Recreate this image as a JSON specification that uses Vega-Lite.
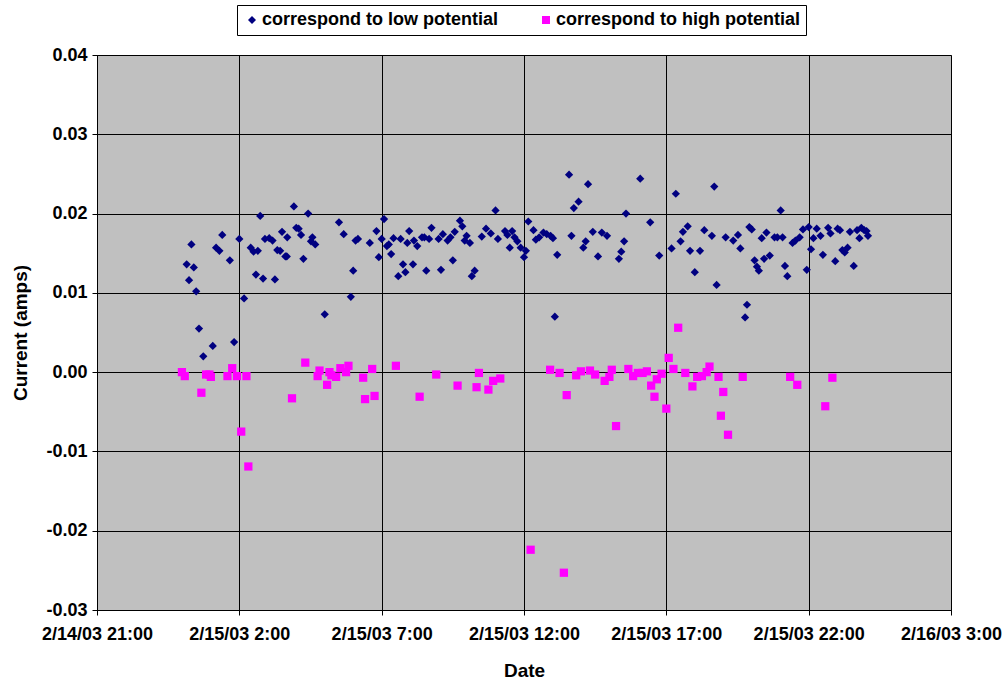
{
  "$schema": "https://vega.github.io/schema/vega-lite/v6.json",
  "autosize": {"type": "none"},
  "width": 854,
  "height": 555,
  "padding": {"left": 97, "top": 55, "right": 54, "bottom": 73},
  "background": "white",
  "config": {
    "font": "Liberation Sans",
    "view": {"fill": "#C0C0C0", "stroke": "#808080", "strokeWidth": 1},
    "axis": {
      "domainColor": "black",
      "tickColor": "black",
      "gridColor": "black",
      "gridOpacity": 1,
      "gridWidth": 1,
      "labelFont": "Liberation Sans",
      "labelFontWeight": "bold",
      "labelFontSize": 18,
      "labelColor": "black",
      "titleFont": "Liberation Sans",
      "titleFontWeight": "bold",
      "titleFontSize": 19,
      "titleColor": "black",
      "tickSize": 5
    }
  },
  "data": {
    "values": [
      {"time": "2003-02-15T00:19", "current": 0.0161, "series": "correspond to low potential"},
      {"time": "2003-02-15T00:09", "current": 0.0136, "series": "correspond to low potential"},
      {"time": "2003-02-15T00:24", "current": 0.0132, "series": "correspond to low potential"},
      {"time": "2003-02-15T00:14", "current": 0.0116, "series": "correspond to low potential"},
      {"time": "2003-02-15T00:29", "current": 0.0102, "series": "correspond to low potential"},
      {"time": "2003-02-15T00:35", "current": 0.0055, "series": "correspond to low potential"},
      {"time": "2003-02-15T01:04", "current": 0.0033, "series": "correspond to low potential"},
      {"time": "2003-02-15T00:44", "current": 0.0020, "series": "correspond to low potential"},
      {"time": "2003-02-15T01:24", "current": 0.0173, "series": "correspond to low potential"},
      {"time": "2003-02-15T01:11", "current": 0.0157, "series": "correspond to low potential"},
      {"time": "2003-02-15T01:18", "current": 0.0153, "series": "correspond to low potential"},
      {"time": "2003-02-15T01:40", "current": 0.0141, "series": "correspond to low potential"},
      {"time": "2003-02-15T02:00", "current": 0.0168, "series": "correspond to low potential"},
      {"time": "2003-02-15T01:49", "current": 0.0038, "series": "correspond to low potential"},
      {"time": "2003-02-15T02:10", "current": 0.0093, "series": "correspond to low potential"},
      {"time": "2003-02-15T02:44", "current": 0.0197, "series": "correspond to low potential"},
      {"time": "2003-02-15T02:24", "current": 0.0157, "series": "correspond to low potential"},
      {"time": "2003-02-15T02:30", "current": 0.0152, "series": "correspond to low potential"},
      {"time": "2003-02-15T02:39", "current": 0.0153, "series": "correspond to low potential"},
      {"time": "2003-02-15T02:35", "current": 0.0123, "series": "correspond to low potential"},
      {"time": "2003-02-15T02:50", "current": 0.0118, "series": "correspond to low potential"},
      {"time": "2003-02-15T03:15", "current": 0.0117, "series": "correspond to low potential"},
      {"time": "2003-02-15T02:54", "current": 0.0168, "series": "correspond to low potential"},
      {"time": "2003-02-15T03:03", "current": 0.0169, "series": "correspond to low potential"},
      {"time": "2003-02-15T03:10", "current": 0.0166, "series": "correspond to low potential"},
      {"time": "2003-02-15T03:30", "current": 0.0177, "series": "correspond to low potential"},
      {"time": "2003-02-15T03:41", "current": 0.0170, "series": "correspond to low potential"},
      {"time": "2003-02-15T03:20", "current": 0.0154, "series": "correspond to low potential"},
      {"time": "2003-02-15T03:26", "current": 0.0153, "series": "correspond to low potential"},
      {"time": "2003-02-15T03:37", "current": 0.0146, "series": "correspond to low potential"},
      {"time": "2003-02-15T03:40", "current": 0.0146, "series": "correspond to low potential"},
      {"time": "2003-02-15T03:55", "current": 0.0209, "series": "correspond to low potential"},
      {"time": "2003-02-15T04:25", "current": 0.0200, "series": "correspond to low potential"},
      {"time": "2003-02-15T04:00", "current": 0.0182, "series": "correspond to low potential"},
      {"time": "2003-02-15T04:05", "current": 0.0181, "series": "correspond to low potential"},
      {"time": "2003-02-15T04:10", "current": 0.0173, "series": "correspond to low potential"},
      {"time": "2003-02-15T04:34", "current": 0.0170, "series": "correspond to low potential"},
      {"time": "2003-02-15T04:31", "current": 0.0165, "series": "correspond to low potential"},
      {"time": "2003-02-15T04:40", "current": 0.0161, "series": "correspond to low potential"},
      {"time": "2003-02-15T04:15", "current": 0.0143, "series": "correspond to low potential"},
      {"time": "2003-02-15T05:00", "current": 0.0073, "series": "correspond to low potential"},
      {"time": "2003-02-15T05:30", "current": 0.0189, "series": "correspond to low potential"},
      {"time": "2003-02-15T05:40", "current": 0.0174, "series": "correspond to low potential"},
      {"time": "2003-02-15T06:05", "current": 0.0166, "series": "correspond to low potential"},
      {"time": "2003-02-15T06:10", "current": 0.0168, "series": "correspond to low potential"},
      {"time": "2003-02-15T06:35", "current": 0.0163, "series": "correspond to low potential"},
      {"time": "2003-02-15T06:00", "current": 0.0128, "series": "correspond to low potential"},
      {"time": "2003-02-15T05:55", "current": 0.0095, "series": "correspond to low potential"},
      {"time": "2003-02-15T06:49", "current": 0.0178, "series": "correspond to low potential"},
      {"time": "2003-02-15T07:05", "current": 0.0193, "series": "correspond to low potential"},
      {"time": "2003-02-15T07:00", "current": 0.0168, "series": "correspond to low potential"},
      {"time": "2003-02-15T07:11", "current": 0.0159, "series": "correspond to low potential"},
      {"time": "2003-02-15T07:15", "current": 0.0161, "series": "correspond to low potential"},
      {"time": "2003-02-15T06:54", "current": 0.0145, "series": "correspond to low potential"},
      {"time": "2003-02-15T07:20", "current": 0.0149, "series": "correspond to low potential"},
      {"time": "2003-02-15T07:25", "current": 0.0169, "series": "correspond to low potential"},
      {"time": "2003-02-15T07:40", "current": 0.0168, "series": "correspond to low potential"},
      {"time": "2003-02-15T07:54", "current": 0.0163, "series": "correspond to low potential"},
      {"time": "2003-02-15T07:58", "current": 0.0178, "series": "correspond to low potential"},
      {"time": "2003-02-15T07:45", "current": 0.0136, "series": "correspond to low potential"},
      {"time": "2003-02-15T07:50", "current": 0.0126, "series": "correspond to low potential"},
      {"time": "2003-02-15T07:35", "current": 0.0121, "series": "correspond to low potential"},
      {"time": "2003-02-15T08:08", "current": 0.0166, "series": "correspond to low potential"},
      {"time": "2003-02-15T08:15", "current": 0.0159, "series": "correspond to low potential"},
      {"time": "2003-02-15T08:06", "current": 0.0136, "series": "correspond to low potential"},
      {"time": "2003-02-15T08:25", "current": 0.0170, "series": "correspond to low potential"},
      {"time": "2003-02-15T08:30", "current": 0.0170, "series": "correspond to low potential"},
      {"time": "2003-02-15T08:40", "current": 0.0168, "series": "correspond to low potential"},
      {"time": "2003-02-15T08:45", "current": 0.0182, "series": "correspond to low potential"},
      {"time": "2003-02-15T08:34", "current": 0.0128, "series": "correspond to low potential"},
      {"time": "2003-02-15T09:00", "current": 0.0168, "series": "correspond to low potential"},
      {"time": "2003-02-15T09:09", "current": 0.0174, "series": "correspond to low potential"},
      {"time": "2003-02-15T09:05", "current": 0.0129, "series": "correspond to low potential"},
      {"time": "2003-02-15T09:19", "current": 0.0166, "series": "correspond to low potential"},
      {"time": "2003-02-15T09:25", "current": 0.0170, "series": "correspond to low potential"},
      {"time": "2003-02-15T09:34", "current": 0.0177, "series": "correspond to low potential"},
      {"time": "2003-02-15T09:30", "current": 0.0141, "series": "correspond to low potential"},
      {"time": "2003-02-15T09:45", "current": 0.0191, "series": "correspond to low potential"},
      {"time": "2003-02-15T09:50", "current": 0.0184, "series": "correspond to low potential"},
      {"time": "2003-02-15T09:59", "current": 0.0172, "series": "correspond to low potential"},
      {"time": "2003-02-15T09:55", "current": 0.0166, "series": "correspond to low potential"},
      {"time": "2003-02-15T10:06", "current": 0.0163, "series": "correspond to low potential"},
      {"time": "2003-02-15T10:16", "current": 0.0128, "series": "correspond to low potential"},
      {"time": "2003-02-15T10:10", "current": 0.0121, "series": "correspond to low potential"},
      {"time": "2003-02-15T10:31", "current": 0.0171, "series": "correspond to low potential"},
      {"time": "2003-02-15T10:40", "current": 0.0181, "series": "correspond to low potential"},
      {"time": "2003-02-15T10:50", "current": 0.0175, "series": "correspond to low potential"},
      {"time": "2003-02-15T11:00", "current": 0.0204, "series": "correspond to low potential"},
      {"time": "2003-02-15T11:05", "current": 0.0168, "series": "correspond to low potential"},
      {"time": "2003-02-15T11:20", "current": 0.0178, "series": "correspond to low potential"},
      {"time": "2003-02-15T11:25", "current": 0.0173, "series": "correspond to low potential"},
      {"time": "2003-02-15T11:35", "current": 0.0178, "series": "correspond to low potential"},
      {"time": "2003-02-15T11:40", "current": 0.0170, "series": "correspond to low potential"},
      {"time": "2003-02-15T11:46", "current": 0.0165, "series": "correspond to low potential"},
      {"time": "2003-02-15T11:30", "current": 0.0157, "series": "correspond to low potential"},
      {"time": "2003-02-15T11:53", "current": 0.0157, "series": "correspond to low potential"},
      {"time": "2003-02-15T12:00", "current": 0.0145, "series": "correspond to low potential"},
      {"time": "2003-02-15T12:04", "current": 0.0153, "series": "correspond to low potential"},
      {"time": "2003-02-15T12:09", "current": 0.0190, "series": "correspond to low potential"},
      {"time": "2003-02-15T12:20", "current": 0.0179, "series": "correspond to low potential"},
      {"time": "2003-02-15T12:25", "current": 0.0167, "series": "correspond to low potential"},
      {"time": "2003-02-15T12:32", "current": 0.0170, "series": "correspond to low potential"},
      {"time": "2003-02-15T12:41", "current": 0.0176, "series": "correspond to low potential"},
      {"time": "2003-02-15T12:48", "current": 0.0174, "series": "correspond to low potential"},
      {"time": "2003-02-15T12:56", "current": 0.0172, "series": "correspond to low potential"},
      {"time": "2003-02-15T13:01", "current": 0.0169, "series": "correspond to low potential"},
      {"time": "2003-02-15T13:05", "current": 0.0070, "series": "correspond to low potential"},
      {"time": "2003-02-15T13:10", "current": 0.0148, "series": "correspond to low potential"},
      {"time": "2003-02-15T13:35", "current": 0.0249, "series": "correspond to low potential"},
      {"time": "2003-02-15T13:40", "current": 0.0172, "series": "correspond to low potential"},
      {"time": "2003-02-15T13:45", "current": 0.0207, "series": "correspond to low potential"},
      {"time": "2003-02-15T13:55", "current": 0.0215, "series": "correspond to low potential"},
      {"time": "2003-02-15T14:05", "current": 0.0157, "series": "correspond to low potential"},
      {"time": "2003-02-15T14:10", "current": 0.0165, "series": "correspond to low potential"},
      {"time": "2003-02-15T14:15", "current": 0.0237, "series": "correspond to low potential"},
      {"time": "2003-02-15T14:25", "current": 0.0177, "series": "correspond to low potential"},
      {"time": "2003-02-15T14:36", "current": 0.0146, "series": "correspond to low potential"},
      {"time": "2003-02-15T14:44", "current": 0.0176, "series": "correspond to low potential"},
      {"time": "2003-02-15T14:55", "current": 0.0172, "series": "correspond to low potential"},
      {"time": "2003-02-15T15:20", "current": 0.0143, "series": "correspond to low potential"},
      {"time": "2003-02-15T15:25", "current": 0.0152, "series": "correspond to low potential"},
      {"time": "2003-02-15T15:31", "current": 0.0165, "series": "correspond to low potential"},
      {"time": "2003-02-15T15:35", "current": 0.0200, "series": "correspond to low potential"},
      {"time": "2003-02-15T16:05", "current": 0.0244, "series": "correspond to low potential"},
      {"time": "2003-02-15T16:26", "current": 0.0189, "series": "correspond to low potential"},
      {"time": "2003-02-15T16:45", "current": 0.0147, "series": "correspond to low potential"},
      {"time": "2003-02-15T17:11", "current": 0.0156, "series": "correspond to low potential"},
      {"time": "2003-02-15T17:20", "current": 0.0225, "series": "correspond to low potential"},
      {"time": "2003-02-15T17:30", "current": 0.0165, "series": "correspond to low potential"},
      {"time": "2003-02-15T17:35", "current": 0.0177, "series": "correspond to low potential"},
      {"time": "2003-02-15T17:45", "current": 0.0184, "series": "correspond to low potential"},
      {"time": "2003-02-15T17:50", "current": 0.0153, "series": "correspond to low potential"},
      {"time": "2003-02-15T18:00", "current": 0.0126, "series": "correspond to low potential"},
      {"time": "2003-02-15T18:11", "current": 0.0153, "series": "correspond to low potential"},
      {"time": "2003-02-15T18:20", "current": 0.0179, "series": "correspond to low potential"},
      {"time": "2003-02-15T18:36", "current": 0.0172, "series": "correspond to low potential"},
      {"time": "2003-02-15T18:41", "current": 0.0234, "series": "correspond to low potential"},
      {"time": "2003-02-15T18:46", "current": 0.0110, "series": "correspond to low potential"},
      {"time": "2003-02-15T19:05", "current": 0.0170, "series": "correspond to low potential"},
      {"time": "2003-02-15T19:21", "current": 0.0166, "series": "correspond to low potential"},
      {"time": "2003-02-15T19:31", "current": 0.0173, "series": "correspond to low potential"},
      {"time": "2003-02-15T19:36", "current": 0.0156, "series": "correspond to low potential"},
      {"time": "2003-02-15T19:46", "current": 0.0069, "series": "correspond to low potential"},
      {"time": "2003-02-15T19:50", "current": 0.0085, "series": "correspond to low potential"},
      {"time": "2003-02-15T19:55", "current": 0.0183, "series": "correspond to low potential"},
      {"time": "2003-02-15T20:00", "current": 0.0180, "series": "correspond to low potential"},
      {"time": "2003-02-15T20:06", "current": 0.0141, "series": "correspond to low potential"},
      {"time": "2003-02-15T20:11", "current": 0.0133, "series": "correspond to low potential"},
      {"time": "2003-02-15T20:15", "current": 0.0128, "series": "correspond to low potential"},
      {"time": "2003-02-15T20:21", "current": 0.0169, "series": "correspond to low potential"},
      {"time": "2003-02-15T20:26", "current": 0.0143, "series": "correspond to low potential"},
      {"time": "2003-02-15T20:31", "current": 0.0176, "series": "correspond to low potential"},
      {"time": "2003-02-15T20:38", "current": 0.0147, "series": "correspond to low potential"},
      {"time": "2003-02-15T20:48", "current": 0.0170, "series": "correspond to low potential"},
      {"time": "2003-02-15T20:54", "current": 0.0170, "series": "correspond to low potential"},
      {"time": "2003-02-15T21:01", "current": 0.0204, "series": "correspond to low potential"},
      {"time": "2003-02-15T21:05", "current": 0.0170, "series": "correspond to low potential"},
      {"time": "2003-02-15T21:10", "current": 0.0134, "series": "correspond to low potential"},
      {"time": "2003-02-15T21:15", "current": 0.0121, "series": "correspond to low potential"},
      {"time": "2003-02-15T21:26", "current": 0.0163, "series": "correspond to low potential"},
      {"time": "2003-02-15T21:32", "current": 0.0166, "series": "correspond to low potential"},
      {"time": "2003-02-15T21:41", "current": 0.0170, "series": "correspond to low potential"},
      {"time": "2003-02-15T21:48", "current": 0.0180, "series": "correspond to low potential"},
      {"time": "2003-02-15T21:56", "current": 0.0129, "series": "correspond to low potential"},
      {"time": "2003-02-15T22:00", "current": 0.0183, "series": "correspond to low potential"},
      {"time": "2003-02-15T22:05", "current": 0.0155, "series": "correspond to low potential"},
      {"time": "2003-02-15T22:10", "current": 0.0169, "series": "correspond to low potential"},
      {"time": "2003-02-15T22:17", "current": 0.0181, "series": "correspond to low potential"},
      {"time": "2003-02-15T22:25", "current": 0.0172, "series": "correspond to low potential"},
      {"time": "2003-02-15T22:30", "current": 0.0148, "series": "correspond to low potential"},
      {"time": "2003-02-15T22:41", "current": 0.0182, "series": "correspond to low potential"},
      {"time": "2003-02-15T22:46", "current": 0.0175, "series": "correspond to low potential"},
      {"time": "2003-02-15T22:56", "current": 0.0140, "series": "correspond to low potential"},
      {"time": "2003-02-15T23:01", "current": 0.0181, "series": "correspond to low potential"},
      {"time": "2003-02-15T23:06", "current": 0.0179, "series": "correspond to low potential"},
      {"time": "2003-02-15T23:11", "current": 0.0154, "series": "correspond to low potential"},
      {"time": "2003-02-15T23:16", "current": 0.0151, "series": "correspond to low potential"},
      {"time": "2003-02-15T23:22", "current": 0.0157, "series": "correspond to low potential"},
      {"time": "2003-02-15T23:27", "current": 0.0177, "series": "correspond to low potential"},
      {"time": "2003-02-15T23:35", "current": 0.0134, "series": "correspond to low potential"},
      {"time": "2003-02-15T23:42", "current": 0.0179, "series": "correspond to low potential"},
      {"time": "2003-02-15T23:47", "current": 0.0169, "series": "correspond to low potential"},
      {"time": "2003-02-15T23:51", "current": 0.0182, "series": "correspond to low potential"},
      {"time": "2003-02-15T23:57", "current": 0.0179, "series": "correspond to low potential"},
      {"time": "2003-02-16T00:02", "current": 0.0178, "series": "correspond to low potential"},
      {"time": "2003-02-16T00:05", "current": 0.0172, "series": "correspond to low potential"},

      {"time": "2003-02-14T23:59", "current": 0.0000, "series": "correspond to high potential"},
      {"time": "2003-02-15T00:05", "current": -0.0005, "series": "correspond to high potential"},
      {"time": "2003-02-15T00:40", "current": -0.0026, "series": "correspond to high potential"},
      {"time": "2003-02-15T00:50", "current": -0.0003, "series": "correspond to high potential"},
      {"time": "2003-02-15T00:57", "current": -0.0003, "series": "correspond to high potential"},
      {"time": "2003-02-15T01:00", "current": -0.0006, "series": "correspond to high potential"},
      {"time": "2003-02-15T01:35", "current": -0.0005, "series": "correspond to high potential"},
      {"time": "2003-02-15T01:45", "current": 0.0005, "series": "correspond to high potential"},
      {"time": "2003-02-15T01:55", "current": -0.0005, "series": "correspond to high potential"},
      {"time": "2003-02-15T02:04", "current": -0.0075, "series": "correspond to high potential"},
      {"time": "2003-02-15T02:15", "current": -0.0005, "series": "correspond to high potential"},
      {"time": "2003-02-15T02:19", "current": -0.0119, "series": "correspond to high potential"},
      {"time": "2003-02-15T03:51", "current": -0.0033, "series": "correspond to high potential"},
      {"time": "2003-02-15T04:19", "current": 0.0012, "series": "correspond to high potential"},
      {"time": "2003-02-15T04:45", "current": -0.0005, "series": "correspond to high potential"},
      {"time": "2003-02-15T04:49", "current": 0.0002, "series": "correspond to high potential"},
      {"time": "2003-02-15T05:05", "current": -0.0016, "series": "correspond to high potential"},
      {"time": "2003-02-15T05:10", "current": 0.0000, "series": "correspond to high potential"},
      {"time": "2003-02-15T05:14", "current": -0.0004, "series": "correspond to high potential"},
      {"time": "2003-02-15T05:24", "current": -0.0006, "series": "correspond to high potential"},
      {"time": "2003-02-15T05:33", "current": 0.0005, "series": "correspond to high potential"},
      {"time": "2003-02-15T05:45", "current": 0.0000, "series": "correspond to high potential"},
      {"time": "2003-02-15T05:50", "current": 0.0008, "series": "correspond to high potential"},
      {"time": "2003-02-15T06:21", "current": -0.0007, "series": "correspond to high potential"},
      {"time": "2003-02-15T06:25", "current": -0.0034, "series": "correspond to high potential"},
      {"time": "2003-02-15T06:40", "current": 0.0004, "series": "correspond to high potential"},
      {"time": "2003-02-15T06:45", "current": -0.0030, "series": "correspond to high potential"},
      {"time": "2003-02-15T07:30", "current": 0.0008, "series": "correspond to high potential"},
      {"time": "2003-02-15T08:20", "current": -0.0031, "series": "correspond to high potential"},
      {"time": "2003-02-15T08:55", "current": -0.0003, "series": "correspond to high potential"},
      {"time": "2003-02-15T09:40", "current": -0.0017, "series": "correspond to high potential"},
      {"time": "2003-02-15T10:20", "current": -0.0019, "series": "correspond to high potential"},
      {"time": "2003-02-15T10:25", "current": -0.0001, "series": "correspond to high potential"},
      {"time": "2003-02-15T10:45", "current": -0.0022, "series": "correspond to high potential"},
      {"time": "2003-02-15T10:55", "current": -0.0011, "series": "correspond to high potential"},
      {"time": "2003-02-15T11:10", "current": -0.0008, "series": "correspond to high potential"},
      {"time": "2003-02-15T12:14", "current": -0.0224, "series": "correspond to high potential"},
      {"time": "2003-02-15T12:55", "current": 0.0003, "series": "correspond to high potential"},
      {"time": "2003-02-15T13:15", "current": -0.0001, "series": "correspond to high potential"},
      {"time": "2003-02-15T13:24", "current": -0.0253, "series": "correspond to high potential"},
      {"time": "2003-02-15T13:30", "current": -0.0029, "series": "correspond to high potential"},
      {"time": "2003-02-15T13:50", "current": -0.0004, "series": "correspond to high potential"},
      {"time": "2003-02-15T14:00", "current": 0.0001, "series": "correspond to high potential"},
      {"time": "2003-02-15T14:19", "current": 0.0002, "series": "correspond to high potential"},
      {"time": "2003-02-15T14:30", "current": -0.0003, "series": "correspond to high potential"},
      {"time": "2003-02-15T14:50", "current": -0.0011, "series": "correspond to high potential"},
      {"time": "2003-02-15T15:00", "current": -0.0006, "series": "correspond to high potential"},
      {"time": "2003-02-15T15:05", "current": 0.0003, "series": "correspond to high potential"},
      {"time": "2003-02-15T15:14", "current": -0.0068, "series": "correspond to high potential"},
      {"time": "2003-02-15T15:40", "current": 0.0004, "series": "correspond to high potential"},
      {"time": "2003-02-15T15:50", "current": -0.0005, "series": "correspond to high potential"},
      {"time": "2003-02-15T16:00", "current": -0.0001, "series": "correspond to high potential"},
      {"time": "2003-02-15T16:10", "current": -0.0001, "series": "correspond to high potential"},
      {"time": "2003-02-15T16:19", "current": 0.0001, "series": "correspond to high potential"},
      {"time": "2003-02-15T16:28", "current": -0.0017, "series": "correspond to high potential"},
      {"time": "2003-02-15T16:35", "current": -0.0031, "series": "correspond to high potential"},
      {"time": "2003-02-15T16:40", "current": -0.0009, "series": "correspond to high potential"},
      {"time": "2003-02-15T16:50", "current": -0.0002, "series": "correspond to high potential"},
      {"time": "2003-02-15T17:00", "current": -0.0046, "series": "correspond to high potential"},
      {"time": "2003-02-15T17:05", "current": 0.0018, "series": "correspond to high potential"},
      {"time": "2003-02-15T17:15", "current": 0.0004, "series": "correspond to high potential"},
      {"time": "2003-02-15T17:25", "current": 0.0056, "series": "correspond to high potential"},
      {"time": "2003-02-15T17:40", "current": -0.0001, "series": "correspond to high potential"},
      {"time": "2003-02-15T17:55", "current": -0.0018, "series": "correspond to high potential"},
      {"time": "2003-02-15T18:05", "current": -0.0006, "series": "correspond to high potential"},
      {"time": "2003-02-15T18:15", "current": -0.0005, "series": "correspond to high potential"},
      {"time": "2003-02-15T18:25", "current": 0.0000, "series": "correspond to high potential"},
      {"time": "2003-02-15T18:31", "current": 0.0007, "series": "correspond to high potential"},
      {"time": "2003-02-15T18:50", "current": -0.0006, "series": "correspond to high potential"},
      {"time": "2003-02-15T18:55", "current": -0.0055, "series": "correspond to high potential"},
      {"time": "2003-02-15T19:00", "current": -0.0025, "series": "correspond to high potential"},
      {"time": "2003-02-15T19:10", "current": -0.0079, "series": "correspond to high potential"},
      {"time": "2003-02-15T19:41", "current": -0.0006, "series": "correspond to high potential"},
      {"time": "2003-02-15T21:21", "current": -0.0006, "series": "correspond to high potential"},
      {"time": "2003-02-15T21:36", "current": -0.0016, "series": "correspond to high potential"},
      {"time": "2003-02-15T22:35", "current": -0.0043, "series": "correspond to high potential"},
      {"time": "2003-02-15T22:50", "current": -0.0007, "series": "correspond to high potential"}
    ]
  },
  "mark": {"type": "point", "filled": true, "size": 68, "opacity": 1, "strokeWidth": 0},
  "encoding": {
    "x": {
      "field": "time",
      "type": "temporal",
      "scale": {
        "domain": [
          {"year": 2003, "month": 2, "date": 14, "hours": 21},
          {"year": 2003, "month": 2, "date": 16, "hours": 3}
        ],
        "nice": false
      },
      "axis": {
        "title": "Date",
        "format": "%-m/%-d/%y %-H:%M",
        "values": [
          {"year": 2003, "month": 2, "date": 14, "hours": 21},
          {"year": 2003, "month": 2, "date": 15, "hours": 2},
          {"year": 2003, "month": 2, "date": 15, "hours": 7},
          {"year": 2003, "month": 2, "date": 15, "hours": 12},
          {"year": 2003, "month": 2, "date": 15, "hours": 17},
          {"year": 2003, "month": 2, "date": 15, "hours": 22},
          {"year": 2003, "month": 2, "date": 16, "hours": 3}
        ],
        "labelPadding": 10,
        "labelOverlap": false,
        "labelFlush": false,
        "titlePadding": 18
      }
    },
    "y": {
      "field": "current",
      "type": "quantitative",
      "scale": {"domain": [-0.03, 0.04], "nice": false, "zero": false},
      "axis": {
        "title": "Current (amps)",
        "values": [-0.03, -0.02, -0.01, 0, 0.01, 0.02, 0.03, 0.04],
        "labelExpr": "replace(format(datum.value, '.2f'), '\u2212', '-')",
        "labelPadding": 5,
        "titlePadding": 15
      }
    },
    "color": {
      "field": "series",
      "type": "nominal",
      "scale": {
        "domain": ["correspond to low potential", "correspond to high potential"],
        "range": ["#000080", "#FF00FF"]
      },
      "legend": {
        "title": null,
        "orient": "none",
        "legendX": 140,
        "legendY": -50,
        "direction": "horizontal",
        "fillColor": "white",
        "strokeColor": "black",
        "padding": 6,
        "columnPadding": 38,
        "labelFont": "Liberation Sans",
        "labelFontWeight": "bold",
        "labelFontSize": 18,
        "labelColor": "black",
        "labelOffset": 1,
        "symbolSize": 64,
        "symbolStrokeWidth": 0,
        "labelLimit": 400
      }
    },
    "shape": {
      "field": "series",
      "type": "nominal",
      "scale": {
        "domain": ["correspond to low potential", "correspond to high potential"],
        "range": ["diamond", "square"]
      },
      "legend": null
    }
  }
}
